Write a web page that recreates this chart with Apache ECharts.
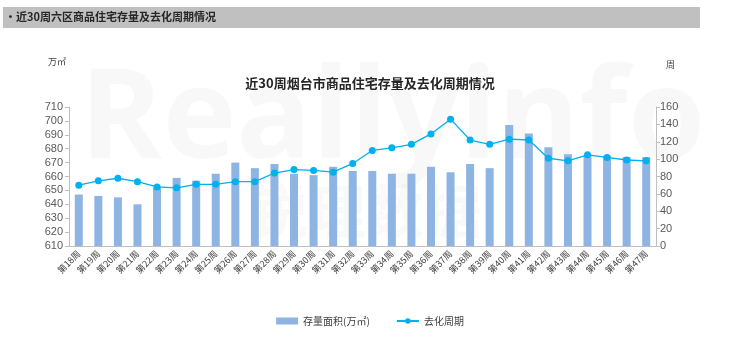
<!DOCTYPE html>
<html><head><meta charset="utf-8">
<script src="https://cdn.jsdelivr.net/npm/echarts@6/dist/echarts.min.js"></script>
<style>html,body{margin:0;padding:0;background:#fff}#c{width:740px;height:345px}</style>
</head><body><div id="c"></div>
<script>
const categories = ['第18周','第19周','第20周','第21周','第22周','第23周','第24周','第25周','第26周','第27周','第28周','第29周','第30周','第31周','第32周','第33周','第34周','第35周','第36周','第37周','第38周','第39周','第40周','第41周','第42周','第43周','第44周','第45周','第46周','第47周'];
const stockArea = [647,646,645,640,652,659,657,662,670,666,669,662,661,667,664,664,662,662,667,663,669,666,697,691,681,676,675,675,674,674];
const cycleWeeks = [70,75,78,74,68,67,71,71,74,74,84,88,87,85,95,110,113,117,129,146,122,117,123,122,101,98,105,102,99,98];
const leftTicks = {min:610, max:710, interval:10};
const rightTicks = {min:0, max:160, interval:20};

const chart = echarts.init(document.getElementById('c'), null, {renderer:'canvas'});
const axisCol = '#bfbfbf', labCol = '#595959';
chart.setOption({
  animation:false,
  graphic:[
    {type:'rect', shape:{x:3,y:7,width:697,height:21}, style:{fill:'#c0c0c0'}, z:-1},
    {type:'text', left:5, top:11, style:{text:'•近30周六区商品住宅存量及去化周期情况', font:'bold 11px "Noto Sans CJK SC"', fill:'#262626'}},
    {type:'text', left:48, top:57, style:{text:'万㎡', font:'9px "Noto Sans CJK SC"', fill:'#404040'}},
    {type:'text', left:666, top:60, style:{text:'周', font:'9px "Noto Sans CJK SC"', fill:'#404040'}},
    {type:'text', left:80, top:60, z:-2, style:{text:'Reallyinfo', font:'bold 125px "Open Sans"', fill:'rgba(0,0,0,0.028)'}},
    {type:'text', left:250, top:182, z:-2, style:{text:'锐理数据', font:'bold 58px "Noto Sans CJK SC"', fill:'rgba(0,0,0,0.025)'}}
  ],
  title:{text:'近30周烟台市商品住宅存量及去化周期情况', left:'center', top:72,
    textStyle:{fontSize:13, fontWeight:'bold', color:'#262626', fontFamily:'"Noto Sans CJK SC"'}},
  legend:{bottom:14, left:'center', itemWidth:22, itemHeight:7, itemGap:26,
    textStyle:{fontSize:10, color:'#404040', fontFamily:'"Noto Sans CJK SC"'},
    data:[{name:'存量面积(万㎡)', icon:'rect'}, {name:'去化周期'}]},
  grid:{left:69, right:84, top:107, bottom:99, containLabel:false},
  xAxis:{type:'category', data:categories, boundaryGap:true,
    axisLine:{lineStyle:{color:axisCol}}, axisTick:{lineStyle:{color:axisCol}, length:4},
    axisLabel:{rotate:45, fontSize:9, color:'#404040', interval:0, margin:6, fontFamily:'"Noto Sans CJK SC"'}},
  yAxis:[
    {type:'value', min:leftTicks.min, max:leftTicks.max, interval:leftTicks.interval,
      splitLine:{show:false}, axisLine:{show:true, lineStyle:{color:axisCol}},
      axisTick:{show:true, length:4, lineStyle:{color:axisCol}},
      axisLabel:{fontSize:11, color:labCol, margin:6}},
    {type:'value', min:rightTicks.min, max:rightTicks.max, interval:rightTicks.interval, position:'right',
      splitLine:{show:false}, axisLine:{show:true, lineStyle:{color:axisCol}},
      axisTick:{show:true, length:4, lineStyle:{color:axisCol}},
      axisLabel:{fontSize:11, color:labCol, margin:4}}
  ],
  series:[
    {name:'存量面积(万㎡)', type:'bar', data:stockArea, yAxisIndex:0, barWidth:8,
      itemStyle:{color:'#8db4e2'}},
    {name:'去化周期', type:'line', data:cycleWeeks, yAxisIndex:1, symbol:'circle', symbolSize:7,
      lineStyle:{color:'#00b0f0', width:1.3}, itemStyle:{color:'#00b0f0'}}
  ]
});
</script></body></html>
